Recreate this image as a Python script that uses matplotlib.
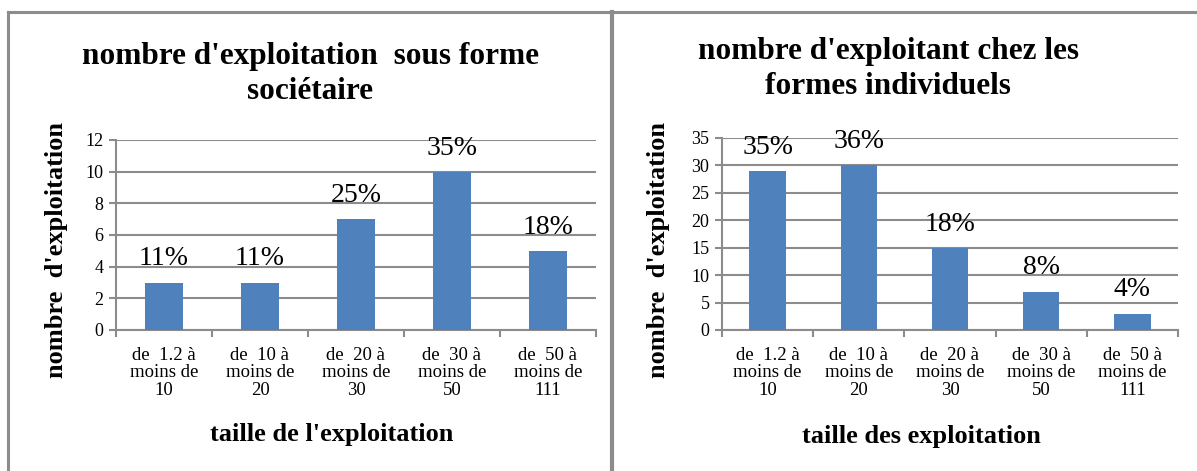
import matplotlib
matplotlib.use("Agg")
import matplotlib.pyplot as plt
from matplotlib.lines import Line2D

plt.rcParams['font.family'] = ['Liberation Serif', 'DejaVu Serif']

categories = ["de  1.2 à\nmoins de\n10", "de  10 à\nmoins de\n20", "de  20 à\nmoins de\n30",
              "de  30 à\nmoins de\n50", "de  50 à\nmoins de\n111"]
societaire_values = [3, 3, 7, 10, 5]
societaire_labels = ["11%", "11%", "25%", "35%", "18%"]
individuel_values = [29, 30, 15, 7, 3]
individuel_labels = ["35%", "36%", "18%", "8%", "4%"]

W, H = 1197, 471
fig = plt.figure(figsize=(W / 100, H / 100), dpi=100)

bar_color = "#4F81BD"
grid_color = "#8C8C8C"


def px_axes(x0, y0, x1, y1):
    return fig.add_axes([x0 / W, 1 - y1 / H, (x1 - x0) / W, (y1 - y0) / H])


def draw(ax, values, labels, ymax, ystep, title_text, xlabel, title_xy, ylabel_x, xlabel_xy):
    x = range(len(values))
    ax.bar(x, values, width=0.4, color=bar_color, zorder=3)
    ax.set_xlim(-0.5, len(values) - 0.5)
    ax.set_ylim(0, ymax)
    ax.set_yticks(range(0, ymax + 1, ystep))
    ax.yaxis.grid(True, color=grid_color, linewidth=1.5, zorder=0)
    ax.set_axisbelow(True)
    for s in ["top", "right"]:
        ax.spines[s].set_visible(False)
    for s in ["left", "bottom"]:
        ax.spines[s].set_color(grid_color)
        ax.spines[s].set_linewidth(1.5)
    ax.set_xticks([i + 0.5 for i in range(-1, len(values))], minor=False)
    ax.set_xticklabels([])
    ax.tick_params(axis="x", which="major", length=5, color=grid_color, width=1.5, direction="out")
    ax.set_xticks(list(x), minor=True)
    ax.set_xticklabels(categories, minor=True, fontsize=13.5, linespacing=1.04)
    ax.tick_params(axis="x", which="minor", length=0, pad=12)
    ax.tick_params(axis="y", length=5, color=grid_color, width=1.5, labelsize=13, pad=4)
    for i, (v, lab) in enumerate(zip(values, labels)):
        ax.annotate(lab, (i, v), xytext=(0, 8), textcoords="offset points",
                    ha="center", va="bottom", fontsize=20, zorder=4)
    fig.text(title_xy[0] / W, 1 - title_xy[1] / H, title_text, ha="center", va="center",
             fontsize=22.5, fontweight="bold", linespacing=1.25)
    fig.text(ylabel_x / W, 1 - 250 / H, "nombre  d'exploitation", rotation=90, ha="center",
             va="center", fontsize=19, fontweight="bold")
    fig.text(xlabel_xy[0] / W, 1 - xlabel_xy[1] / H, xlabel, ha="center", va="center",
             fontsize=19, fontweight="bold")


ax1 = px_axes(116, 140, 596, 330)
draw(ax1, societaire_values, societaire_labels, 12, 2,
     "nombre d'exploitation  sous forme\nsociétaire", "taille de l'exploitation",
     (310, 74), 56, (332, 435))

ax2 = px_axes(722, 138, 1178, 330)
draw(ax2, individuel_values, individuel_labels, 35, 5,
     "nombre d'exploitant chez les\nformes individuels", "taille des exploitation",
     (888, 69), 658, (921, 437))

# panel borders
fig.add_artist(Line2D([8 / W, 1], [1 - 12 / H, 1 - 12 / H], color="#8C8C8C", linewidth=2.2))
fig.add_artist(Line2D([8 / W, 8 / W], [0, 1 - 12 / H], color="#8C8C8C", linewidth=2.2))
fig.add_artist(Line2D([612 / W, 612 / W], [0, 1 - 12 / H], color="#8C8C8C", linewidth=3.0))

fig.savefig("out.png", dpi=100)
